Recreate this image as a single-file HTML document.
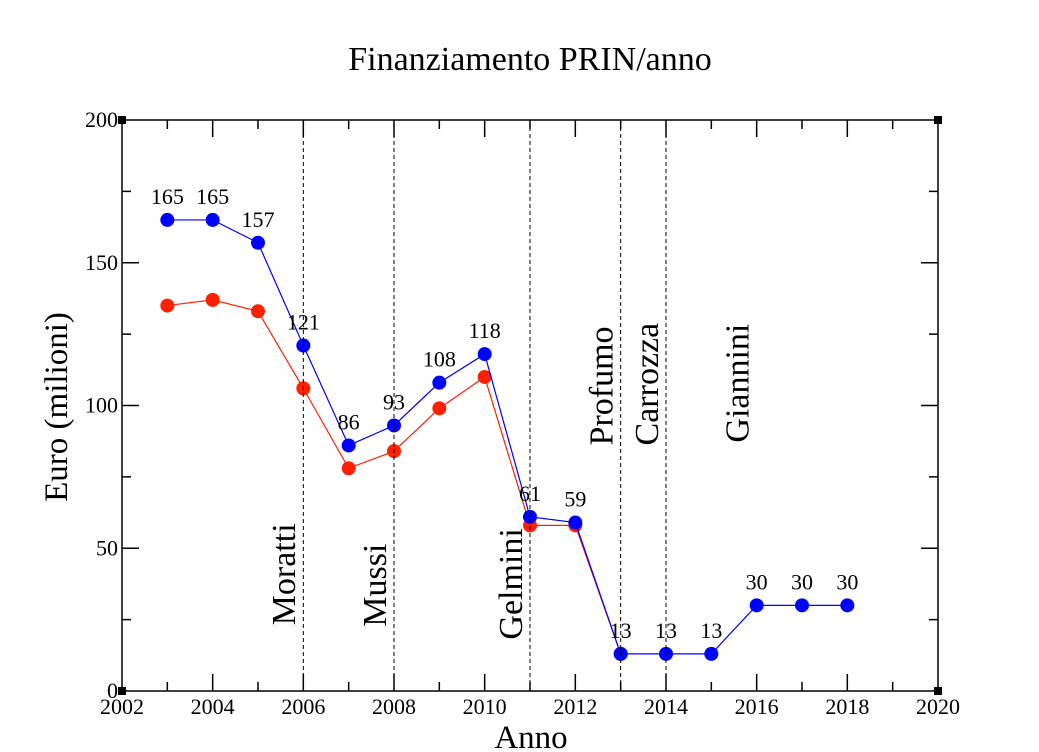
<!DOCTYPE html>
<html><head><meta charset="utf-8"><style>
body{margin:0;background:#fff}
svg{display:block;font-family:"Liberation Serif",serif}
</style></head><body>
<svg id="chart" width="1039" height="752">
<text x="530" y="70" font-size="34" text-anchor="middle">Finanziamento PRIN/anno</text>
<text x="531" y="748" font-size="33" text-anchor="middle">Anno</text>
<text transform="translate(67,407) rotate(-90)" font-size="33" text-anchor="middle">Euro (milioni)</text>
<g id="axes"></g><g id="series"></g><g id="overlay"></g>
</svg>
<script>
const years=[2003,2004,2005,2006,2007,2008,2009,2010,2011,2012,2013,2014,2015,2016,2017,2018];
const blueValues=[165,165,157,121,86,93,108,118,61,59,13,13,13,30,30,30];
const redYears=[2003,2004,2005,2006,2007,2008,2009,2010,2011,2012,2013];
const redValues=[135,137,133,106,78,84,99,110,58,58,13];
const xTicks=[2002,2004,2006,2008,2010,2012,2014,2016,2018,2020];
const yTicks=[0,50,100,150,200];
const ministerYears=[2006,2008,2011,2013,2014];
const ministers=["Moratti","Mussi","Gelmini","Profumo","Carrozza","Giannini"];
const ministerLabelX=[2005.6,2007.6,2010.6,2012.6,2013.6,2015.6];
const ministerLabelY=[23,22.5,18,86,86,87];

const L=122,R=938,T=120,B=691;
const xs=v=>L+(v-2002)/18*(R-L);
const ys=v=>B-v/200*(B-T);
const NS="http://www.w3.org/2000/svg";
function mk(tag,attrs,parent,text){const e=document.createElementNS(NS,tag);for(const k in attrs)e.setAttribute(k,attrs[k]);if(text!==undefined)e.textContent=text;parent.appendChild(e);return e;}
const ax=document.getElementById('axes'),se=document.getElementById('series'),ov=document.getElementById('overlay');
let fr=mk('rect',{x:L,y:T,width:R-L,height:B-T,fill:'none',stroke:'#000','stroke-width':1.5},ax);


[[L,T],[R,T],[L,B],[R,B]].forEach(p=>{const c=mk('rect',{x:p[0]-4,y:p[1]-4,width:8,height:8,fill:'#000'},ax);

});
for(let y=2003;y<=2019;y++){const major=(y%2===0);const len=major?17:9;const x=xs(y);
mk('line',{x1:x,y1:B,x2:x,y2:B-len,stroke:'#000','stroke-width':1.5},ax);
mk('line',{x1:x,y1:T,x2:x,y2:T+len,stroke:'#000','stroke-width':1.5},ax);}
for(let v=25;v<200;v+=25){const major=(v%50===0);const len=major?17:9;const y=ys(v);
mk('line',{x1:L,y1:y,x2:L+len,y2:y,stroke:'#000','stroke-width':1.5},ax);
mk('line',{x1:R,y1:y,x2:R-len,y2:y,stroke:'#000','stroke-width':1.5},ax);}
xTicks.forEach(t=>{const e=mk('text',{x:xs(t),y:B+23,'font-size':22,'text-anchor':'middle'},ax,t);

});
yTicks.forEach(t=>{const e=mk('text',{x:L-4,y:ys(t)+7,'font-size':22,'text-anchor':'end'},ax,t);

});
let rl=mk('polyline',{points:redYears.map((y,i)=>xs(y)+','+ys(redValues[i])).join(' '),fill:'none',stroke:'#ff2000','stroke-width':1.2},se);


redYears.forEach((y,i)=>{const c=mk('circle',{cx:xs(y),cy:ys(redValues[i]),r:7,fill:'#ff2000'},se);

});
let bl=mk('polyline',{points:years.map((y,i)=>xs(y)+','+ys(blueValues[i])).join(' '),fill:'none',stroke:'#0000ff','stroke-width':1.2},se);


years.forEach((y,i)=>{const c=mk('circle',{cx:xs(y),cy:ys(blueValues[i]),r:7,fill:'#0000ff'},se);


const t=mk('text',{x:xs(y),y:ys(blueValues[i])-16,'font-size':22,'text-anchor':'middle'},se,blueValues[i]);

});
ministerYears.forEach(y=>{const l=mk('line',{x1:xs(y),y1:T,x2:xs(y),y2:B,stroke:'#000','stroke-width':1,'stroke-dasharray':'4,3'},ov);

});
ministers.forEach((m,i)=>{const x=xs(ministerLabelX[i])+10,y=ys(ministerLabelY[i]);
const t=mk('text',{transform:`translate(${x},${y}) rotate(-90)`,'font-size':34},ov,m);

});
</script>
</body></html>
